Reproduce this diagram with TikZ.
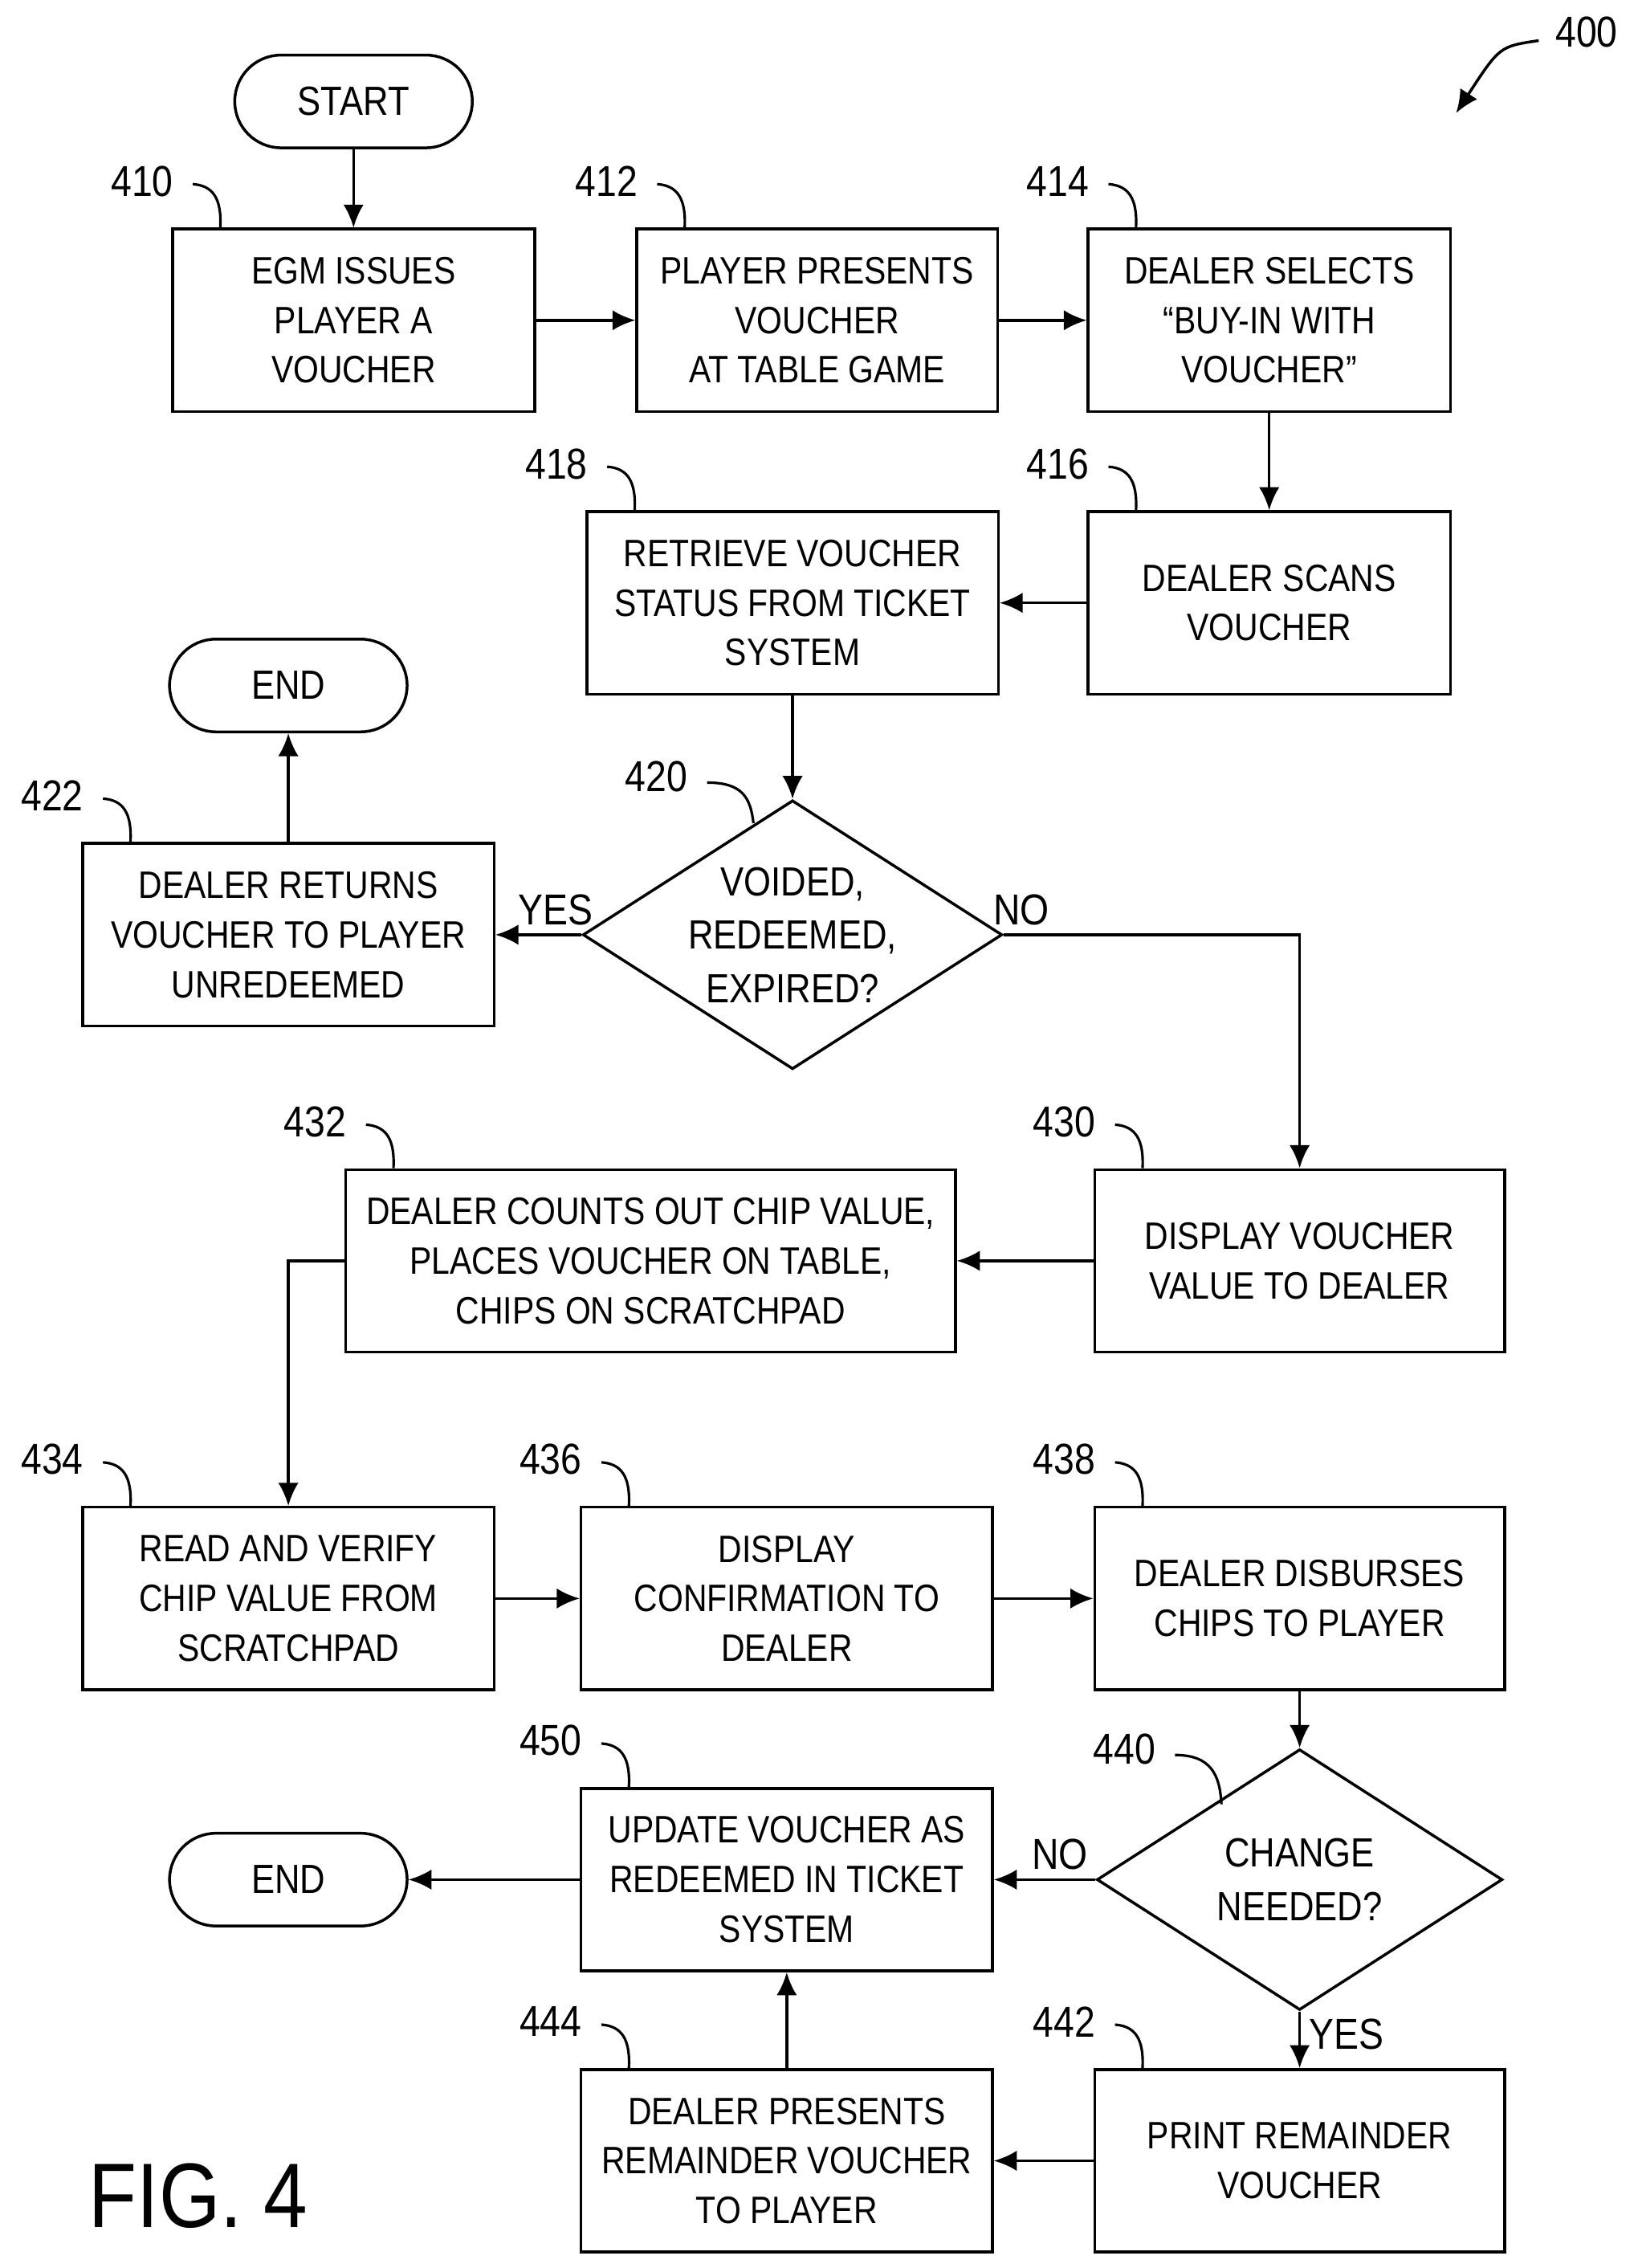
\documentclass[tikz,border=0pt]{standalone}
\usepackage{fontspec}
\setmainfont{Liberation Sans}[FakeStretch=0.86]
\usetikzlibrary{arrows.meta,shapes.geometric}
\tikzset{
  box/.style={draw, line width=1.1pt, align=center, inner sep=2pt, minimum height=2.52cm, font=\fontsize{15}{19.5}\selectfont},
  term/.style={draw, line width=1.1pt, rounded corners=0.64cm, minimum width=3.28cm, minimum height=1.28cm, font=\fontsize{16}{20}\selectfont},
  dec/.style={draw, line width=1.1pt, diamond, aspect=1.56, inner sep=0pt, minimum width=5.62cm, minimum height=3.6cm, align=center, font=\fontsize{16}{21}\selectfont},
  flow/.style={line width=1.1pt, -{Latex[length=9pt,width=8pt]}},
  lab/.style={font=\fontsize{17}{20}\selectfont},
}
\newcommand\refnum[3]{% node, number, anchor
  \node[lab] (n#2) at ([xshift=-0.4cm,yshift=0.64cm]#1.#3) {#2};
  \draw[line width=1pt] ([xshift=0.7cm,yshift=-0.04cm]n#2.center) .. controls ([xshift=0.98cm,yshift=-0.06cm]n#2.center) and ([xshift=0.7cm,yshift=0.4cm]#1.#3) .. ([xshift=0.68cm]#1.#3);
}
\begin{document}
\begin{tikzpicture}[x=0.02cm,y=-0.02cm]
  \useasboundingbox (0,0) rectangle (1130,1565);
  % top row
  \node[term] (start) at (244,70) {START};
  \node[box, minimum width=5.0cm] (b410) at (244,221) {EGM ISSUES\\PLAYER A\\VOUCHER};
  \node[box, minimum width=4.98cm] (b412) at (564,221) {PLAYER PRESENTS\\VOUCHER\\AT TABLE GAME};
  \node[box, minimum width=5.0cm] (b414) at (876,221) {DEALER SELECTS\\``BUY-IN WITH\\VOUCHER''};
  \node[box, minimum width=5.0cm] (b416) at (876,416) {DEALER SCANS\\VOUCHER};
  \node[box, minimum width=5.68cm] (b418) at (547,416) {RETRIEVE VOUCHER\\STATUS FROM TICKET\\SYSTEM};
  % first decision
  \node[term] (end1) at (199,473) {END};
  \node[box, minimum width=5.68cm] (b422) at (199,645) {DEALER RETURNS\\VOUCHER TO PLAYER\\UNREDEEMED};
  \node[dec] (d420) at (547,645) {VOIDED,\\REDEEMED,\\EXPIRED?};
  \node[box, minimum width=5.66cm] (b430) at (897,870) {DISPLAY VOUCHER\\VALUE TO DEALER};
  \node[box, minimum width=8.42cm] (b432) at (449,870) {DEALER COUNTS OUT CHIP VALUE,\\PLACES VOUCHER ON TABLE,\\CHIPS ON SCRATCHPAD};
  % verify row
  \node[box, minimum width=5.68cm] (b434) at (199,1103) {READ AND VERIFY\\CHIP VALUE FROM\\SCRATCHPAD};
  \node[box, minimum width=5.68cm] (b436) at (543,1103) {DISPLAY\\CONFIRMATION TO\\DEALER};
  \node[box, minimum width=5.66cm] (b438) at (897,1103) {DEALER DISBURSES\\CHIPS TO PLAYER};
  % change
  \node[dec, minimum width=5.6cm] (d440) at (897,1297) {CHANGE\\NEEDED?};
  \node[box, minimum width=5.68cm] (b450) at (543,1297) {UPDATE VOUCHER AS\\REDEEMED IN TICKET\\SYSTEM};
  \node[term] (end2) at (199,1297) {END};
  \node[box, minimum width=5.68cm] (b444) at (543,1491) {DEALER PRESENTS\\REMAINDER VOUCHER\\TO PLAYER};
  \node[box, minimum width=5.66cm] (b442) at (897,1491) {PRINT REMAINDER\\VOUCHER};
  \node[font=\fontsize{36}{40}\selectfont] (fig) at (137,1515) {FIG. 4};
  % reference numbers
  \refnum{b410}{410}{north west}
  \refnum{b412}{412}{north west}
  \refnum{b414}{414}{north west}
  \refnum{b416}{416}{north west}
  \refnum{b418}{418}{north west}
  \refnum{b422}{422}{north west}
  \refnum{b430}{430}{north west}
  \refnum{b432}{432}{north west}
  \refnum{b434}{434}{north west}
  \refnum{b436}{436}{north west}
  \refnum{b438}{438}{north west}
  \refnum{b450}{450}{north west}
  \refnum{b444}{444}{north west}
  \refnum{b442}{442}{north west}
  \node[lab] (n420) at (453,536) {420};
  \draw[line width=1pt] (488,540) .. controls (512,540) and (518,550) .. (520,568);
  \node[lab] (n440) at (776,1207) {440};
  \draw[line width=1pt] (811,1211) .. controls (836,1211) and (842,1225) .. (843,1245);
  \node[lab] (n400) at (1095,22) {400};
  \coordinate (c400) at (1005,78);
  \draw[flow] (1062,28) .. controls (1035,32) .. (c400);
  % connectors
  \draw[flow] (start) -- (b410);
  \draw[flow] (b410) -- (b412);
  \draw[flow] (b412) -- (b414);
  \draw[flow] (b414) -- (b416);
  \draw[flow] (b416) -- (b418);
  \draw[flow] (b418) -- (d420);
  \draw[flow] (d420) -- node[above, lab, pos=0.3] {YES} (b422);
  \draw[flow] (b422) -- (end1);
  \draw[flow] (d420.east) -- node[above, lab, pos=0.06] {NO} (897,645) -- (b430);
  \draw[flow] (b430) -- (b432);
  \draw[flow] (b432.west) -| (b434.north);
  \draw[flow] (b434) -- (b436);
  \draw[flow] (b436) -- (b438);
  \draw[flow] (b438) -- (d440);
  \draw[flow] (d440) -- node[above, lab, pos=0.35] {NO} (b450);
  \draw[flow] (b450) -- (end2);
  \draw[flow] (d440) -- node[right, lab, pos=0.4] {YES} (b442);
  \draw[flow] (b442) -- (b444);
  \draw[flow] (b444) -- (b450);
\end{tikzpicture}
\end{document}
